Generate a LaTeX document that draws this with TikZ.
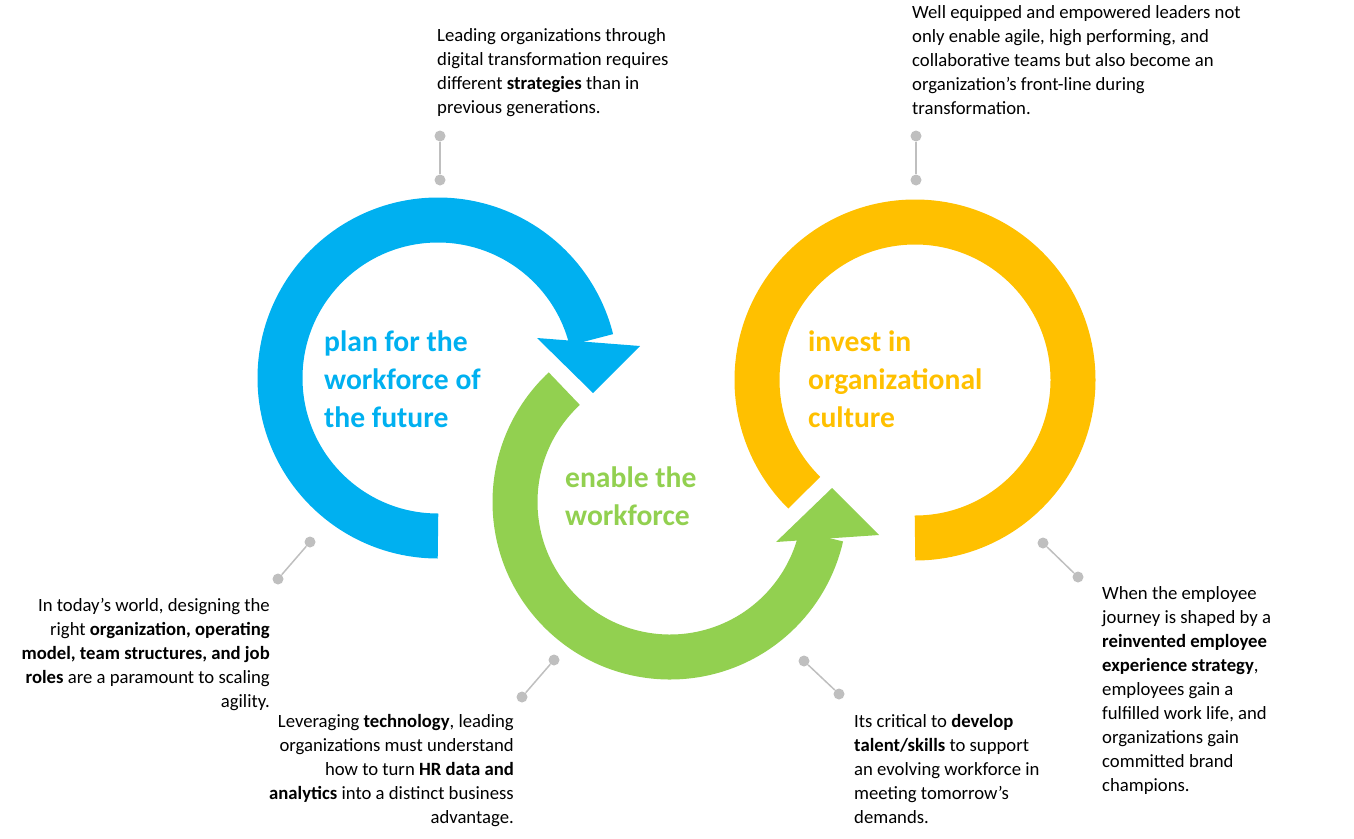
\documentclass[tikz,border=0pt]{standalone}
\usepackage{fontspec}
\setmainfont{Carlito}
\definecolor{cblue}{HTML}{00B0F0}
\definecolor{cgreen}{HTML}{92D050}
\definecolor{cyel}{HTML}{FFC000}
\definecolor{cgray}{HTML}{BFBFBF}
\begin{document}
\begin{tikzpicture}[x=1pt,y=-1pt,
  body/.style={inner sep=0pt,font=\fontsize{18.7}{24}\selectfont},
  big/.style={inner sep=0pt,align=left,anchor=north west,font=\fontsize{29.6}{38}\selectfont\bfseries},
  dot/.style={circle,fill=cgray,inner sep=0pt,minimum size=11pt},
  lnk/.style={draw=cgray,line width=1.5pt}]
\useasboundingbox (0,0) rectangle (1354,838);
% rings
\draw[cblue,line width=45pt] ([shift={(90:158)}]438,378) arc[start angle=90,end angle=346,radius=158];
\fill[cblue] (537,338) -- (640,346) -- (593,393) -- cycle;
\draw[cgreen,line width=45pt] ([shift={(227:155)}]670,502) arc[start angle=227,end angle=12.7,radius=155];
\fill[cgreen] (776,542) -- (832,488) -- (879,535) -- cycle;
\draw[cyel,line width=45pt] ([shift={(90:158)}]915,380) arc[start angle=90,end angle=-225.5,radius=158];
% labels
\node[big,text=cblue] (lb) at (324,331) {plan for the\\workforce of\\the future};
\node[big,text=cgreen] (lg) at (565,467) {enable the\\workforce};
\node[big,text=cyel] (ly) at (808,331) {invest in\\organizational\\culture};
% connectors
\node[dot] (a1) at (440,136) {}; \node[dot] (a2) at (440,180) {}; \draw[lnk] (a1)--(a2);
\node[dot] (b1) at (916,136) {}; \node[dot] (b2) at (916,180) {}; \draw[lnk] (b1)--(b2);
\node[dot] (c1) at (310,542) {}; \node[dot] (c2) at (278,579) {}; \draw[lnk] (c1)--(c2);
\node[dot] (d1) at (554,660) {}; \node[dot] (d2) at (522,697) {}; \draw[lnk] (d1)--(d2);
\node[dot] (e1) at (804,661) {}; \node[dot] (e2) at (839,694) {}; \draw[lnk] (e1)--(e2);
\node[dot] (f1) at (1043,543) {}; \node[dot] (f2) at (1078,577) {}; \draw[lnk] (f1)--(f2);
% texts
\node[body,align=left,anchor=north west] (t1) at (437,28) {Leading organizations through\\digital transformation requires\\different \textbf{strategies} than in\\previous generations.};
\node[body,align=left,anchor=north west] (t2) at (912,5) {Well equipped and empowered leaders not\\only enable agile, high performing, and\\collaborative teams but also become an\\organization’s front-line during\\transformation.};
\node[body,align=right,anchor=north east] (t3) at (270,598) {In today’s world, designing the\\right \textbf{organization, operating}\\\textbf{model, team structures, and job}\\\textbf{roles} are a paramount to scaling\\agility.};
\node[body,align=right,anchor=north east] (t4) at (514,714) {Leveraging \textbf{technology}, leading\\organizations must understand\\how to turn \textbf{HR data and}\\\textbf{analytics} into a distinct business\\advantage.};
\node[body,align=left,anchor=north west] (t5) at (854,714) {Its critical to \textbf{develop}\\\textbf{talent/skills} to support\\an evolving workforce in\\meeting tomorrow’s\\demands.};
\node[body,align=left,anchor=north west] (t6) at (1102,586) {When the employee\\journey is shaped by a\\\textbf{reinvented employee}\\\textbf{experience strategy},\\employees gain a\\fulfilled work life, and\\organizations gain\\committed brand\\champions.};
\end{tikzpicture}
\end{document}
